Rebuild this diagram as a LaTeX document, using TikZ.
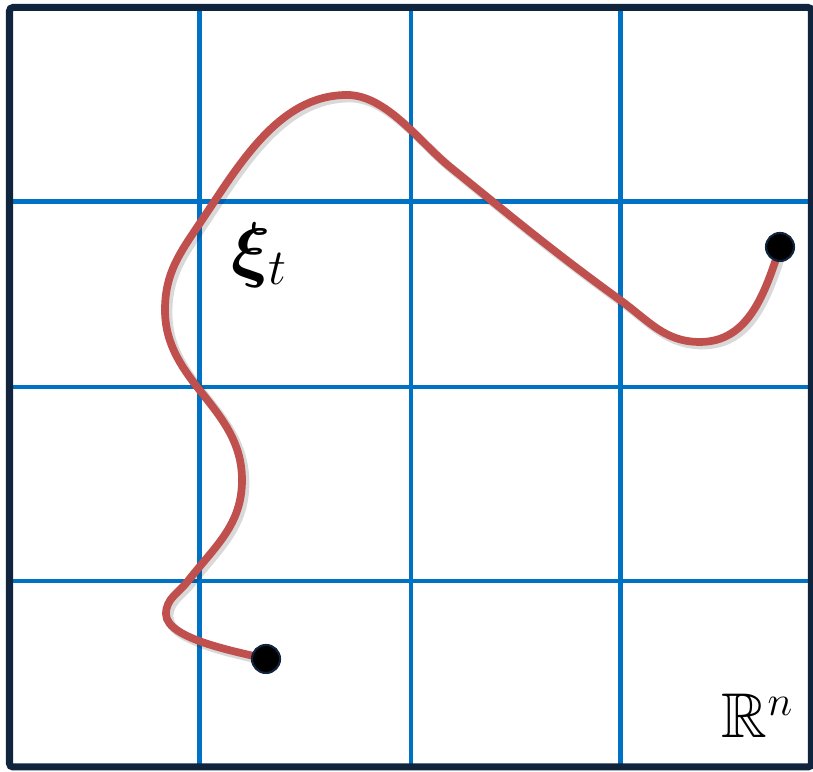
\documentclass[tikz,border=0pt]{standalone}
\usepackage{amsmath,amssymb,bm}
\begin{document}
\begin{tikzpicture}[
        x=1cm, y=1cm,
        frame line/.style={draw=framenavy, line width=2pt, rounded corners=1pt},
        grid line/.style={draw=gridblue, line width=1.3pt},
        path line/.style={draw=pathred, line width=2.2pt, line cap=round},
        path shadow/.style={draw=black, opacity=0.15, line width=2.6pt, line cap=round},
        end dot/.style={circle, fill=black, draw=framenavy, line width=0.6pt, minimum size=0.28cm, inner sep=0pt},
    ]
    \definecolor{framenavy}{RGB}{16,36,62}
    \definecolor{gridblue}{RGB}{0,114,198}
    \definecolor{pathred}{RGB}{192,80,77}

    % Bildrahmen festlegen
    \useasboundingbox (0,0) rectangle (8.13,7.72);
    \fill[white] (0,0) rectangle (8.13,7.72);

    % Gitter: drei senkrechte und drei waagrechte Linien
    \foreach \x in {1.995, 4.11, 6.205} {
        \draw[grid line] (\x, 0.06) -- (\x, 7.64);
    }
    \foreach \y in {5.705, 3.85, 1.91} {
        \draw[grid line] (0.10, \y) -- (8.12, \y);
    }

    % Rahmen um den Raum
    \draw[frame line] (0.095, 0.05) rectangle (8.115, 7.645);

    % Start- und Endpunkt der Bahn
    \coordinate (start) at (2.66, 1.13);
    \coordinate (stop) at (7.80, 5.25);

    % Verlauf der Bahn in Teilstuecken
    \def\bahn{(start) to[out=165, in=-90, looseness=0.6] (1.66,1.58)
        to[out=90, in=-128] (1.88,1.91)
        to[out=52, in=-90] (2.42,2.92)
        to[out=90, in=-90] (1.65,4.62)
        to[out=90, in=-124] (2.00,5.49)
        to[out=56, in=180, looseness=0.9] (3.47,6.77)
        to[out=0, in=141, looseness=0.8] (4.50,6.05)
        to[out=-39, in=144] (6.20,4.72)
        to[out=-36, in=180] (7.00,4.30)
        to[out=0, in=-108] (stop)}

    % Bahn xi_t (erst Schatten, dann Linie)
    \draw[path shadow, transform canvas={xshift=0.8pt, yshift=-0.8pt}] \bahn;
    \draw[path line] \bahn;

    % Punkte an den Enden
    \node[end dot] (startdot) at (start) {};
    \node[end dot] (stopdot) at (stop) {};

    % Beschriftungen
    \node[font=\fontsize{20}{24}\selectfont] (xilabel) at (2.60, 5.17) {$\bm{\xi}_t$};
    \node[font=\fontsize{18}{22}\selectfont] (spacelabel) at (7.58, 0.56) {$\mathbb{R}^n$};

\end{tikzpicture}
\end{document}
